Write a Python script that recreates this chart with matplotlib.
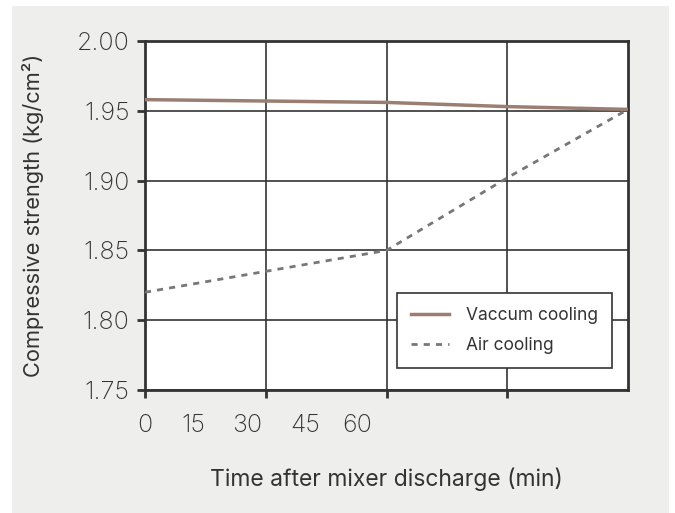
# Compressive strength vs time after mixer discharge
import matplotlib.pyplot as plt
from matplotlib.patches import Rectangle

# --------------------------------------------------- data
grid_pos = [0, 1, 2, 3, 4]
vaccum = [1.958, 1.957, 1.956, 1.953, 1.951]
air = [1.820, 1.835, 1.850, 1.902, 1.951]
xlabel_pos = [0.0, 0.40, 0.845, 1.33, 1.76]
xlabel_txt = ["0", "15", "30", "45", "60"]
yticks = [1.75, 1.80, 1.85, 1.90, 1.95, 2.00]

dark = "#333333"
plt.rcParams['font.family'] = ['Inter', 'DejaVu Sans']

# --------------------------------------------------- figure + grey panel
fig = plt.figure(figsize=(6.75, 5.13), dpi=100, facecolor="white")
fig.patches.append(Rectangle((12 / 675, 0), 657 / 675, 507 / 513,
                             transform=fig.transFigure, facecolor="#eeefed",
                             edgecolor="none", zorder=-10))
ax = fig.add_axes([145 / 675, 123 / 513, 483 / 675, 349 / 513])
ax.set_facecolor("white")

ax.plot(grid_pos, vaccum, color="#9a7e72", lw=2.5, label="Vaccum cooling", zorder=3)
ax.plot(grid_pos, air, color="#777777", lw=2, ls=(0, (2.2, 2.2)), label="Air cooling", zorder=3)

ax.set_xlim(0, 4)
ax.set_ylim(1.75, 2.00)

# grid ticks (no labels) + text labels on minor ticks
ax.xaxis.remove_overlapping_locs = False
ax.set_xticks([0, 1, 2, 3])
ax.set_xticklabels([])
ax.set_xticks(xlabel_pos, minor=True)
ax.set_xticklabels(xlabel_txt, minor=True)
ax.tick_params(axis="x", which="major", direction="out", length=6, width=2, color=dark)
ax.tick_params(axis="x", which="minor", length=0, pad=17, labelsize=18, labelcolor="#333333")
ax.set_yticks(yticks)
ax.set_yticklabels(["%.2f" % v for v in yticks])
ax.tick_params(axis="y", direction="out", length=6, width=2, color=dark, pad=5,
               labelsize=18, labelcolor="#333333")
for lab in ax.get_xticklabels(minor=True) + ax.get_yticklabels():
    lab.set_fontweight("light")

ax.grid(True, which="major", color=dark, lw=1.2)
for s in ax.spines.values():
    s.set_color(dark)
    s.set_linewidth(2)

ax.set_xlabel("Time after mixer discharge (min)", fontsize=16.5, color="#333333", labelpad=22)
ax.set_ylabel("Compressive strength (kg/cm²)", fontsize=15.7, color="#333333", labelpad=24)

leg = ax.legend(loc="lower right", bbox_to_anchor=(0.967, 0.063), borderaxespad=0,
                fontsize=12.5, frameon=True, fancybox=False, edgecolor=dark, framealpha=1,
                handlelength=2.2, borderpad=0.8, labelspacing=0.75, handletextpad=1.0)
leg.get_frame().set_linewidth(1.2)
for t in leg.get_texts():
    t.set_color("#333333")

plt.savefig("out.png", dpi=100, facecolor=fig.get_facecolor())
